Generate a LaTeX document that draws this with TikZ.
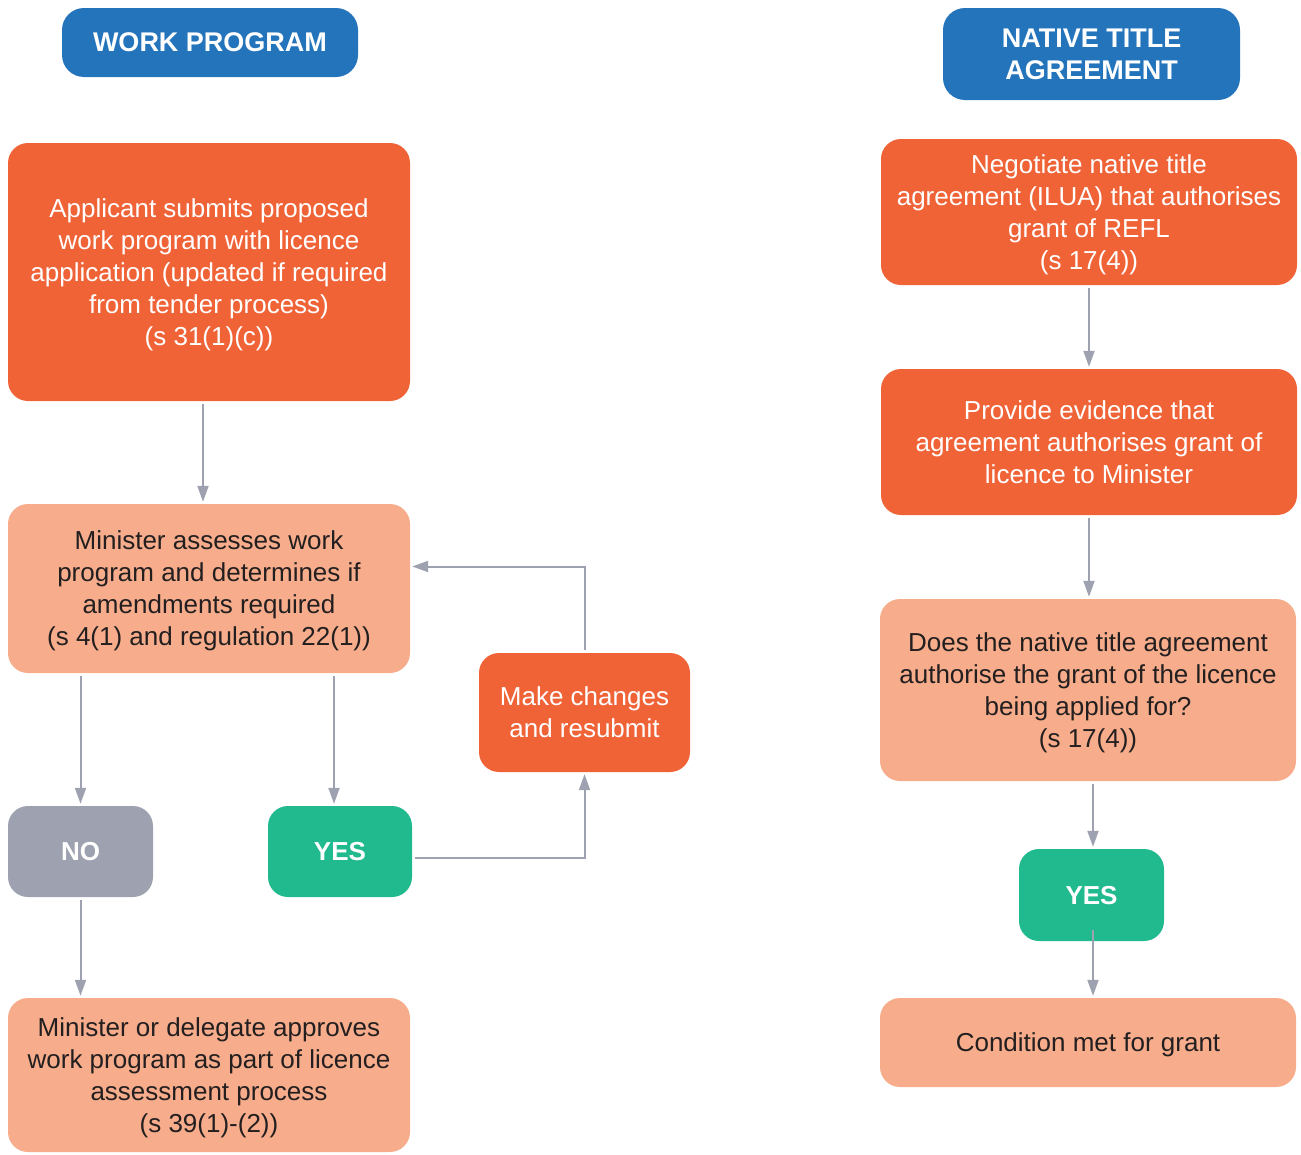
\documentclass[tikz,border=0pt]{standalone}
\usepackage{fontspec}
\setmainfont{Liberation Sans}
\usetikzlibrary{arrows.meta}
\definecolor{hdrblue}{HTML}{2474BC}
\definecolor{stepor}{HTML}{F06337}
\definecolor{stepsal}{HTML}{F7AD8B}
\definecolor{okgreen}{HTML}{21B98E}
\definecolor{nogrey}{HTML}{9EA1AF}
\definecolor{linegrey}{HTML}{9EA1AF}
\definecolor{darktxt}{HTML}{231F20}
\begin{document}
\begin{tikzpicture}[x=1pt,y=-1pt,
  box/.style={rectangle,rounded corners=20pt,inner sep=0pt,align=center,
    text depth=-10pt,font=\fontsize{26}{32}\selectfont},
  header/.style={box,rounded corners=22pt,fill=hdrblue,text=white,
    text depth=-5pt,font=\fontsize{27}{32}\selectfont\bfseries},
  actbox/.style={box,fill=stepor,text=white},
  infobox/.style={box,fill=stepsal,text=darktxt},
  yesbox/.style={box,fill=okgreen,text=white,text depth=-3pt,
    font=\fontsize{26}{32}\selectfont\bfseries},
  nobox/.style={box,fill=nogrey,text=white,text depth=-3pt,
    font=\fontsize{26}{32}\selectfont\bfseries},
  flow/.style={draw=linegrey,line width=2pt,
    -{Triangle[width=11pt,length=16pt]},shorten >=2pt,shorten <=3pt}
]
\path[use as bounding box] (0,0) rectangle (1301,1154);

% left column: work program
\node[header,minimum width=296pt,minimum height=69pt] (h1) at (210,42.5) {WORK PROGRAM};
\node[actbox,minimum width=402pt,minimum height=258pt] (a) at (209,272)
  {Applicant submits proposed\\work program with licence\\application (updated if required\\from tender process)\\(s 31(1)(c))};
\node[infobox,minimum width=402pt,minimum height=169pt] (b) at (209,588.5)
  {Minister assesses work\\program and determines if\\amendments required\\(s 4(1) and regulation 22(1))};
\node[actbox,minimum width=211pt,minimum height=119pt] (mc) at (584.5,712.5)
  {Make changes\\and resubmit};
\node[nobox,minimum width=145pt,minimum height=91pt] (no) at (80.5,851.5) {NO};
\node[yesbox,minimum width=144pt,minimum height=91pt] (yes1) at (340,851.5) {YES};
\node[infobox,minimum width=402pt,minimum height=154pt] (d) at (209,1075)
  {Minister or delegate approves\\work program as part of licence\\assessment process\\(s 39(1)-(2))};

% right column: native title agreement
\node[header,minimum width=297pt,minimum height=92pt] (h2) at (1091.5,54) {NATIVE TITLE\\AGREEMENT};
\node[actbox,minimum width=416pt,minimum height=146pt] (r1) at (1089,212)
  {Negotiate native title\\agreement (ILUA) that authorises\\grant of REFL\\(s 17(4))};
\node[actbox,minimum width=416pt,minimum height=146pt] (r2) at (1089,442)
  {Provide evidence that\\agreement authorises grant of\\licence to Minister};
\node[infobox,minimum width=416pt,minimum height=182pt] (r3) at (1088,690)
  {Does the native title agreement\\authorise the grant of the licence\\being applied for?\\(s 17(4))};
\node[yesbox,minimum width=145pt,minimum height=92pt] (yes2) at (1091.5,895) {YES};
\node[infobox,minimum width=416pt,minimum height=89pt] (cond) at (1088,1042.5)
  {Condition met for grant};

% connectors
\draw[flow] ([xshift=-6pt]a.south) -- ([xshift=-6pt]b.north);
\draw[flow] (b.south -| no.north) -- (no.north);
\draw[flow] ([xshift=-6pt]yes1.north |- b.south) -- ([xshift=-6pt]yes1.north);
\draw[flow] ([yshift=-6pt]yes1.east) -| (mc.south);
\draw[flow] (mc.north) |- ([yshift=22pt]b.east);
\draw[flow] (no.south) -- (no.south |- d.north);
\draw[flow] (r1.south) -- (r1.south |- r2.north);
\draw[flow] (r2.south) -- (r2.south |- r3.north);
\draw[flow] ([xshift=1.5pt]yes2.north |- r3.south) -- ([xshift=1.5pt]yes2.north);
\draw[flow,shorten <=0pt] ([xshift=1.5pt,yshift=11pt]yes2.south) -- ([xshift=1.5pt]yes2.south |- cond.north);
\end{tikzpicture}
\end{document}
